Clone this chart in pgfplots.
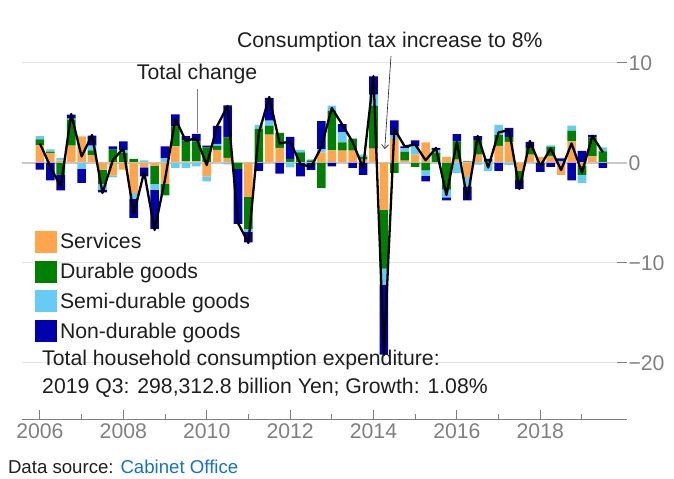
\documentclass[border=0pt]{standalone}
\usepackage{fontspec}
\setmainfont{Liberation Sans}
\usepackage{pgfplots}
\usepackage{pgfplotstable}
\pgfplotsset{compat=1.18}
\usetikzlibrary{arrows.meta}

\definecolor{cS}{RGB}{255,166,77}
\definecolor{cD}{RGB}{0,128,0}
\definecolor{cSD}{RGB}{102,204,245}
\definecolor{cND}{RGB}{0,0,175}
\definecolor{tickgray}{RGB}{128,128,128}
\definecolor{gridgray}{RGB}{229,229,229}
\definecolor{zerogray}{RGB}{200,200,200}
\definecolor{txt}{RGB}{30,30,30}
\definecolor{link}{RGB}{20,115,195}

\newcommand\chartfont{\fontsize{21.3}{25}\selectfont}
\newcommand\smallchartfont{\fontsize{18.7}{22}\selectfont}

\pgfplotstableread{
x S D SD ND T
2006.00 1.75 0.60 0.33 -0.67 1.95
2006.25 1.00 0.10 0.25 -1.75 -0.35
2006.50 0.25 -1.15 0.25 -1.60 -2.40
2006.75 1.73 2.60 0.10 0.40 4.90
2007.00 2.67 0.00 -0.60 -1.40 0.65
2007.25 0.77 0.50 0.47 1.00 2.80
2007.50 -0.67 -1.43 -0.57 -0.27 -3.00
2007.75 -1.27 1.33 -0.17 0.33 0.30
2008.00 -0.67 1.00 0.25 0.90 1.45
2008.25 -3.00 0.40 -0.60 -1.90 -5.10
2008.50 -0.43 0.00 0.27 -0.90 -0.90
2008.75 -0.30 -1.80 -0.60 -3.90 -6.70
2009.00 -2.10 -1.15 0.45 1.20 -1.65
2009.25 1.67 2.00 -0.50 1.20 4.40
2009.50 0.17 2.07 -0.50 0.45 2.20
2009.75 0.17 2.00 -0.33 0.73 2.50
2010.00 -1.33 1.57 -0.50 0.17 -0.20
2010.25 1.30 0.40 0.20 1.80 3.70
2010.50 0.50 2.05 -0.15 3.20 5.70
2010.75 0.00 -0.60 0.10 -5.50 -6.00
2011.00 -3.40 -3.20 -0.30 -1.05 -8.00
2011.25 0.00 3.40 0.40 -0.80 3.00
2011.50 2.83 0.90 0.50 2.27 6.60
2011.75 1.50 1.50 0.00 -1.07 1.95
2012.00 0.10 0.30 -0.45 2.20 2.15
2012.25 0.00 1.05 0.27 -1.35 -0.10
2012.50 0.00 0.25 0.10 -0.70 -0.40
2012.75 1.05 -2.50 0.33 2.80 1.60
2013.00 1.27 3.97 0.50 -0.33 5.50
2013.25 1.23 0.83 1.03 0.80 3.85
2013.50 1.23 1.20 0.00 -0.50 2.10
2013.75 0.33 0.27 0.23 -1.20 -0.50
2014.00 1.43 4.30 1.10 1.83 8.70
2014.25 -4.67 -5.90 -1.60 -7.00 -19.20
2014.50 2.40 -1.00 0.35 1.50 3.40
2014.75 0.23 0.87 0.37 0.20 1.65
2015.00 0.83 -0.40 0.83 0.60 1.85
2015.25 2.07 -0.73 -0.53 -0.57 0.27
2015.50 0.00 1.00 0.30 0.20 1.50
2015.75 0.60 -2.67 -0.77 -0.30 -3.20
2016.00 0.33 1.83 -1.00 0.73 2.10
2016.25 -1.40 0.17 -0.93 -1.40 -3.60
2016.50 0.83 1.45 -0.17 0.40 2.70
2016.75 0.00 0.20 -0.80 0.20 -0.45
2017.00 1.70 1.10 1.00 -0.80 3.05
2017.25 2.10 0.50 -0.20 0.90 3.30
2017.50 -0.80 -0.90 0.10 -0.90 -2.60
2017.75 0.83 0.67 0.00 0.60 2.20
2018.00 0.60 0.00 0.00 -0.90 -0.30
2018.25 0.70 0.90 0.15 -0.40 1.45
2018.50 -1.20 0.10 0.10 0.25 -0.70
2018.75 2.17 1.07 0.50 -1.73 1.95
2019.00 -0.30 -0.90 -0.80 1.20 -0.95
2019.25 0.67 1.90 0.00 0.23 2.70
2019.50 0.00 1.17 0.40 -0.50 1.08
}\data

\pgfplotsset{
  base/.style={
    at={(22bp,59bp)}, anchor=south west,
    scale only axis, width=605bp, height=397bp,
    xmin=2005.57, xmax=2020.08, ymin=-25.7, ymax=14,
    clip=false,
  },
}

\begin{document}
\begin{tikzpicture}
% background axis, ticks, grid, positive stacks
\begin{axis}[base,
  ybar stacked, bar width=8.6bp,
  axis x line*=bottom, axis y line*=right,
  x axis line style={draw=tickgray, line width=1bp, -},
  y axis line style={draw=none},
  xtick={2006,2008,...,2018},
  minor xtick={2007,2009,...,2019},
  ytick={-20,-10,0,10},
  yticklabels={−20,−10,0,10},
  tick align=inside,
  major tick length=10bp, minor tick length=6bp,
  tick style={draw=tickgray, line width=1bp},
  ymajorgrids, grid style={draw=gridgray, line width=1bp},
  /pgf/number format/assume math mode=true,
  xticklabel style={/pgf/number format/1000 sep={}},
  yticklabel style={xshift=-2bp},
  ticklabel style={text=tickgray, font=\chartfont},
  legend cell align=left,
  legend image code/.code={\draw[#1,/tikz/.cd,draw=none] (0bp,-11bp) rectangle (22bp,11bp);},
  legend style={draw=none, fill=none, inner sep=0pt, outer sep=0pt,
    at={(0.0215,0.476)}, anchor=north west,
    row sep=7.7bp, column sep=3bp, font=\chartfont,
    nodes={inner sep=0pt, text=txt}},
]
\draw[zerogray, line width=2.2bp] (axis cs:2005.57,0) -- (axis cs:2020.08,0);
\addplot[fill=cS, draw=none] table[x=x, y expr={max(\thisrow{S},0)}] {\data};
\addplot[fill=cD, draw=none] table[x=x, y expr={max(\thisrow{D},0)}] {\data};
\addplot[fill=cSD, draw=none] table[x=x, y expr={max(\thisrow{SD},0)}] {\data};
\addplot[fill=cND, draw=none] table[x=x, y expr={max(\thisrow{ND},0)}] {\data};
\legend{Services, Durable goods, Semi-durable goods, Non-durable goods}
\end{axis}
% negative stacks
\begin{axis}[base, hide axis, ybar stacked, bar width=8.6bp]
\addplot[fill=cS, draw=none] table[x=x, y expr={min(\thisrow{S},0)}] {\data};
\addplot[fill=cD, draw=none] table[x=x, y expr={min(\thisrow{D},0)}] {\data};
\addplot[fill=cSD, draw=none] table[x=x, y expr={min(\thisrow{SD},0)}] {\data};
\addplot[fill=cND, draw=none] table[x=x, y expr={min(\thisrow{ND},0)}] {\data};
\end{axis}
% total line and annotations
\begin{axis}[base, hide axis]
\addplot[black, line width=2.3bp, sharp plot, mark=none, line join=round] table[x=x, y=T] {\data};
\node[font=\chartfont, text=txt, inner sep=0pt] at (axis cs:2014.39,12.1) {Consumption tax increase to 8\%};
\draw[txt, line width=0.6bp, -{Straight Barb[length=4bp, width=7bp]}] (axis cs:2014.42,10.7) -- (axis cs:2014.27,1.4);
\node[font=\chartfont, text=txt, inner sep=0pt] at (axis cs:2009.77,8.9) {Total change};
\draw[gray, line width=0.6bp] (axis cs:2009.78,7.4) -- (axis cs:2009.78,3.0);
\node[font=\chartfont, text=txt, inner sep=0pt, anchor=west] at (axis cs:2006.05,-19.7) {Total household consumption expenditure:};
\node[font=\chartfont, text=txt, inner sep=0pt, anchor=west] at (axis cs:2006.05,-22.5) {2019 Q3: 298,312.8 billion Yen; Growth: 1.08\%};
\node[font=\smallchartfont, text=txt, inner sep=0pt, anchor=west] at (axis cs:2005.23,-30.4) {Data source: \textcolor{link}{Cabinet Office}};
\end{axis}
\pgfresetboundingbox
\path[use as bounding box] (0,0) rectangle (674bp,479bp);
\end{tikzpicture}
\end{document}
